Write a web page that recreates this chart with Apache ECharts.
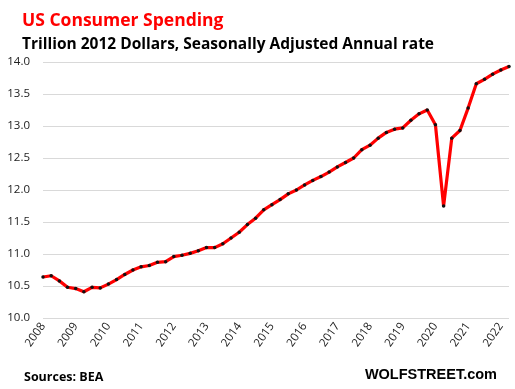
<!DOCTYPE html>
<html><head><meta charset="utf-8">
<script src="https://cdn.jsdelivr.net/npm/echarts@6/dist/echarts.min.js"></script>
<style>html,body{margin:0;padding:0;background:#fff}#c{width:515px;height:389px}</style>
</head><body><div id="c"></div>
<script>
const years = ['2008','2009','2010','2011','2012','2013','2014','2015','2016','2017','2018','2019','2020','2021','2022'];
const quarters = [];
years.forEach(y => { for (let q = 1; q <= 4; q++) quarters.push(y + ' Q' + q); });
const categories = quarters.slice(0, 58);
const spending = [
 10.64, 10.66, 10.58, 10.48, 10.46, 10.41, 10.48, 10.47,
 10.53, 10.60, 10.68, 10.75, 10.80, 10.82, 10.87, 10.88,
 10.96, 10.98, 11.01, 11.05, 11.10, 11.10, 11.16, 11.25,
 11.34, 11.46, 11.56, 11.69, 11.77, 11.85, 11.94, 12.00,
 12.08, 12.15, 12.21, 12.28, 12.36, 12.43, 12.50, 12.63,
 12.70, 12.81, 12.90, 12.95, 12.97, 13.09, 13.19, 13.25,
 13.02, 11.75, 12.81, 12.93, 13.28, 13.66, 13.73, 13.81,
 13.875, 13.93
];
const yTicks = [10.0, 10.5, 11.0, 11.5, 12.0, 12.5, 13.0, 13.5, 14.0];
const chart = echarts.init(document.getElementById('c'), null, {renderer: 'canvas'});
const FONT = '"Open Sans", "Liberation Sans", sans-serif';
chart.setOption({
  animation: false,
  backgroundColor: '#fff',
  title: [
    {text: 'US Consumer Spending', left: 17, top: 7,
     textStyle: {color: '#ff0000', fontSize: 17.5, fontWeight: 'bold', fontFamily: FONT}},
    {text: 'Trillion 2012 Dollars, Seasonally Adjusted Annual rate', left: 17, top: 32,
     textStyle: {color: '#000', fontSize: 15.5, fontWeight: 'bold', fontFamily: FONT}},
    {text: 'Sources: BEA', left: 19, top: 366,
     textStyle: {color: '#000', fontSize: 12.5, fontWeight: 'bold', fontFamily: FONT}},
    {text: 'WOLFSTREET.com', right: 13, top: 362,
     textStyle: {color: '#000', fontSize: 14.5, fontWeight: 'bold', fontFamily: '"Liberation Sans", Arial, sans-serif'}}
  ],
  grid: {left: 43, right: 6, top: 62, bottom: 71, containLabel: false},
  xAxis: {
    type: 'category', data: categories, boundaryGap: false,
    axisLine: {show: false}, axisTick: {show: false},
    axisLabel: {
      interval: 3, rotate: 55, margin: 6,
      color: '#222', fontSize: 11.5, fontFamily: FONT,
      formatter: v => v.slice(0, 4)
    },
    splitLine: {show: false}
  },
  yAxis: {
    type: 'value', min: 10, max: 14, interval: 0.5,
    axisLine: {show: false}, axisTick: {show: false},
    axisLabel: {color: '#222', fontSize: 11.5, fontFamily: FONT, margin: 13,
      formatter: v => v.toFixed(1)},
    splitLine: {lineStyle: {color: '#d9d9d9', width: 1}}
  },
  series: [{
    type: 'line', data: spending,
    lineStyle: {color: '#ff0000', width: 3.2},
    itemStyle: {color: '#111'},
    symbol: 'circle', symbolSize: 3.5, showSymbol: true
  }]
});
</script></body></html>
